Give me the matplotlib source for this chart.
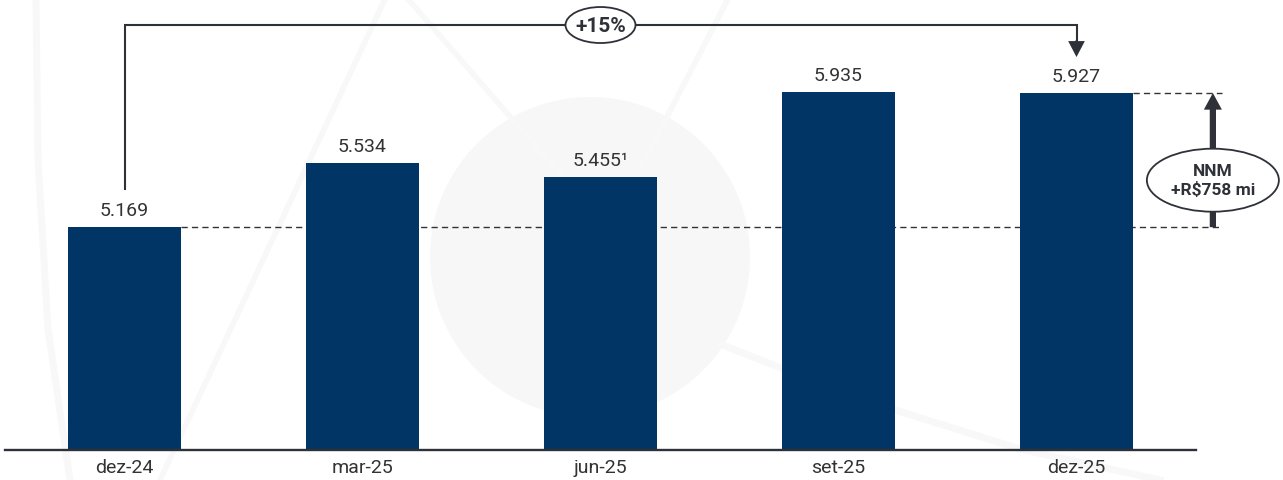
import matplotlib
matplotlib.use("Agg")
import matplotlib.pyplot as plt
from matplotlib.patches import Ellipse, Circle, FancyArrowPatch

plt.rcParams['font.family'] = ['Roboto', 'DejaVu Sans']

# dados (R$ milhões)
periodos = ['dez-24', 'mar-25', 'jun-25', 'set-25', 'dez-25']
valores = [5169, 5534, 5455, 5935, 5927]
rotulos = ['5.169', '5.534', '5.455¹', '5.935', '5.927']
crescimento = '+15%'
nnm_texto = 'NNM\n+R$758 mi'

AZUL = '#013565'
CINZA = '#2e3138'
TEXTO = '#333333'

W, H = 1283, 481
fig = plt.figure(figsize=(W / 100, H / 100), dpi=100)

# fundo com marca d'agua (coordenadas em pixels)
bg = fig.add_axes([0, 0, 1, 1], zorder=0)
bg.set_xlim(0, W)
bg.set_ylim(H, 0)
bg.axis('off')
wm = '#f8f8f8'
bg.add_patch(Circle((590, 258), 160, color='#f7f7f7', lw=0))
bg.plot([36, 38, 48, 70], [0, 160, 330, 481], color=wm, lw=5, solid_capstyle='butt')
bg.plot([385, 160], [0, 481], color=wm, lw=4)
bg.plot([408, 560], [0, 175], color=wm, lw=4)
bg.plot([728, 640], [0, 170], color=wm, lw=4)
bg.plot([720, 860, 1020, 1160], [345, 400, 450, 481], color=wm, lw=5)

# grafico principal
ax = fig.add_axes([0, 30 / H, 1, 451 / H], zorder=1)
ax.patch.set_alpha(0)
escala = 0.177  # px por unidade
y0 = 3910
ax.set_ylim(y0, y0 + 451 / escala)
ax.set_xlim(-124.5 / 238, (W - 124.5) / 238)

x = list(range(len(periodos)))
larg = 0.475
ax.bar(x, [v - y0 for v in valores], bottom=y0, width=larg, color=AZUL, zorder=3)

for xi, v, r in zip(x, valores, rotulos):
    ax.annotate(r, (xi, v), xytext=(0, 8.5), textcoords='offset points',
                ha='center', va='baseline', fontsize=14, color=TEXTO)

ax.set_xticks(x)
ax.set_xticklabels(periodos, fontsize=14, color=TEXTO)
ax.tick_params(axis='x', length=0, pad=6)
ax.set_yticks([])
for s in ax.spines.values():
    s.set_visible(False)
ax.axhline(y0, xmin=5 / W, xmax=1196 / W, color=CINZA, lw=1.7, clip_on=False, zorder=4)

# linhas tracejadas de referencia
x_nnm = 4.573
ax.hlines(valores[0], x[0] + larg / 2, x_nnm + 0.04, colors=TEXTO, lw=1,
          linestyles=(0, (4.5, 3)), zorder=2)
ax.hlines(valores[-1], x[-1] + larg / 2, x_nnm + 0.04, colors=TEXTO, lw=1,
          linestyles=(0, (4.5, 3)), zorder=2)

# colchete +15%
topo = 6311
ax.plot([x[0], x[0], x[-1], x[-1]], [valores[0] + 216, topo, topo, 6215],
        color=CINZA, lw=1.5, zorder=4, solid_joinstyle='miter')
ax.add_patch(FancyArrowPatch((x[-1], 6225), (x[-1], 6130),
                             arrowstyle='simple,head_length=11.5,head_width=12,tail_width=1.5',
                             mutation_scale=1, color=CINZA, lw=0, shrinkA=0, shrinkB=0, zorder=4))
ax.add_patch(Ellipse((2.0, topo), 70 / 238, 36 / escala, facecolor='white',
                     edgecolor=CINZA, lw=1.3, zorder=5))
ax.text(2.0, topo, crescimento, ha='center', va='center', fontsize=15,
        fontweight='bold', color=CINZA, zorder=6)

# seta NNM
ax.add_patch(FancyArrowPatch((x_nnm, valores[0]), (x_nnm, valores[-1]),
                             arrowstyle='simple,head_length=12,head_width=13,tail_width=4.5',
                             mutation_scale=1, color=CINZA, lw=0, shrinkA=0, shrinkB=0, zorder=4))
y_el = valores[0] + 0.35 * (valores[-1] - valores[0])
ax.add_patch(Ellipse((x_nnm, y_el), 132 / 238, 63 / escala, facecolor='white',
                     edgecolor=CINZA, lw=1.3, zorder=5))
ax.text(x_nnm, y_el, nnm_texto, ha='center', va='center', fontsize=12.5,
        fontweight='bold', color=CINZA, linespacing=1.2, zorder=6)

fig.savefig('out.png', dpi=100)
